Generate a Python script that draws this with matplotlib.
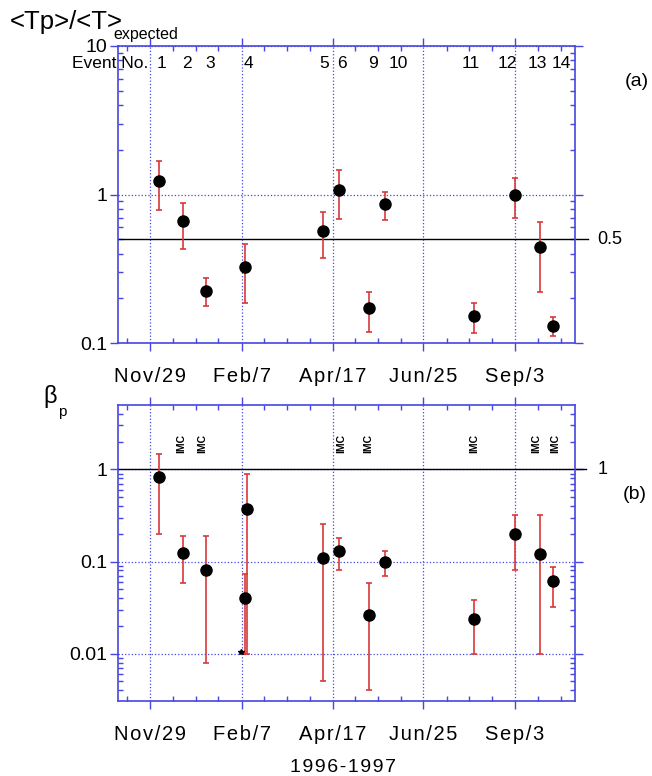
import matplotlib
matplotlib.use("Agg")
import matplotlib.pyplot as plt
from matplotlib.ticker import FixedLocator, FixedFormatter, NullFormatter, LogLocator

W, H = 652, 776
plt.rcParams['font.family'] = ['Liberation Sans', 'DejaVu Sans']

BLUE = '#4646e0'
RED = '#d83a3a'

# x axis: days after 1996 Nov 29
date_labels = ["Nov/29", "Feb/7", "Apr/17", "Jun/25", "Sep/3"]
date_days = [0, 70, 139, 208, 278]

event_no = ["1", "2", "3", "4", "5", "6", "9", "10", "11", "12", "13", "14"]
event_label_day = [9, 28, 46, 75, 133, 146, 170, 189, 244, 272, 295, 313]

# panel (a): <Tp>/<T>expected
tp_day = [7, 25, 43, 72, 132, 144, 167, 179, 247, 278, 297, 307]
tp_val = [1.24, 0.66, 0.224, 0.325, 0.57, 1.08, 0.171, 0.86, 0.151, 0.99, 0.44, 0.131]
tp_hi = [1.67, 0.88, 0.272, 0.467, 0.766, 1.47, 0.221, 1.04, 0.185, 1.29, 0.656, 0.150]
tp_lo = [0.79, 0.43, 0.178, 0.185, 0.376, 0.687, 0.119, 0.676, 0.117, 0.70, 0.222, 0.111]

# panel (b): beta_p
bp_day = [7, 25, 43, 72, 74, 132, 144, 167, 179, 247, 278, 297, 307]
bp_val = [0.83, 0.125, 0.080, 0.040, 0.37, 0.11, 0.13, 0.026, 0.10, 0.024, 0.20, 0.12, 0.061]
bp_hi = [1.46, 0.19, 0.19, 0.073, 0.90, 0.254, 0.18, 0.059, 0.129, 0.038, 0.32, 0.32, 0.087]
bp_lo = [0.2, 0.058, 0.008, 0.01, 0.01, 0.005, 0.08, 0.004, 0.07, 0.01, 0.08, 0.01, 0.032]
star_day, star_val = 69, 0.0105

imc_day = [24, 40, 146, 166, 247, 294, 309]


def spaced(s):
    return '\u200a'.join(s)


def px(x, y):
    return x / W, 1 - y / H


def style(ax, ylim, yticks, ylabels):
    ax.set_yscale('log')
    ax.set_xlim(-24.4, 323.7)
    ax.set_ylim(*ylim)
    step = (date_days[-1] - date_days[0]) / 16
    minors = [date_days[0] - step] + [date_days[0] + step * k for k in range(1, 19) if k % 4]
    ax.xaxis.set_major_locator(FixedLocator(date_days))
    ax.xaxis.set_major_formatter(FixedFormatter([spaced(s) for s in date_labels]))
    ax.xaxis.set_minor_locator(FixedLocator(minors))
    ax.yaxis.set_major_locator(FixedLocator(yticks))
    ax.yaxis.set_major_formatter(FixedFormatter(ylabels))
    ax.yaxis.set_minor_locator(LogLocator(base=10, subs=range(2, 10)))
    ax.yaxis.set_minor_formatter(NullFormatter())
    for s in ax.spines.values():
        s.set_color(BLUE)
        s.set_linewidth(1.2)
    ax.tick_params(which='both', top=True, right=True, color=BLUE, width=1.0)
    ax.tick_params(which='major', direction='out', length=6)
    ax.tick_params(which='minor', direction='in', length=3.5)
    ax.tick_params(axis='x', which='major', labelsize=14.5, pad=11)
    ax.tick_params(axis='y', which='major', labelsize=14, pad=1.5)
    ax.grid(which='major', color=BLUE, ls=':', lw=0.9)


fig = plt.figure(figsize=(W / 100, H / 100), dpi=100)
ax1 = fig.add_axes([118 / W, 1 - 343 / H, 457 / W, 297 / H])
ax2 = fig.add_axes([118 / W, 1 - 701 / H, 457 / W, 296 / H])

style(ax1, (0.1, 10), [0.1, 1, 10], ["0.1", "1", "10"])
style(ax2, (0.00307, 4.98), [0.01, 0.1, 1], ["0.01", "0.1", "1"])

ax1.axhline(0.5, xmin=0, xmax=1.028, color='black', lw=1, clip_on=False, zorder=2)
ax1.errorbar(tp_day, tp_val,
             yerr=[[v - l for v, l in zip(tp_val, tp_lo)], [h - v for v, h in zip(tp_val, tp_hi)]],
             fmt='o', color='black', ms=8, ecolor=RED, elinewidth=1.2, capsize=2.2, capthick=1.2, zorder=3)

ax2.axhline(1, xmin=0, xmax=1.024, color='black', lw=1, clip_on=False, zorder=2)
ax2.errorbar(bp_day, bp_val,
             yerr=[[v - l for v, l in zip(bp_val, bp_lo)], [h - v for v, h in zip(bp_val, bp_hi)]],
             fmt='o', color='black', ms=8, ecolor=RED, elinewidth=1.2, capsize=2.2, capthick=1.2, zorder=3)
ax2.plot([star_day], [star_val], marker='*', color='black', ms=4, ls='none', zorder=4)

for d in imc_day:
    ax2.text(d, 1.9, "IMC", rotation=90, fontsize=7.5, fontweight='bold',
             ha='center', va='center')

# panel annotations
ax1.text(1.048, 0.5, "0.5", transform=ax1.get_yaxis_transform(), fontsize=13, va='center', ha='left')
ax2.text(1.05, 1, "1", transform=ax2.get_yaxis_transform(), fontsize=13, va='center', ha='left')

fig.text(*px(10, 22), "<Tp>/<T>", fontsize=18.5, ha='left', va='center')
fig.text(*px(113, 35), "expected", fontsize=11.5, ha='left', va='center')
fig.text(*px(72, 63), "Event No.", fontsize=12.5, ha='left', va='center')
for lab, d in zip(event_no, event_label_day):
    x = 150 + d * 1.313
    fig.text(*px(x, 63), lab, fontsize=12.5, ha='center', va='center')
fig.text(*px(637, 82), "(a)", fontsize=14, ha='center', va='center')
fig.text(*px(635, 495), "(b)", fontsize=14, ha='center', va='center')
fig.text(*px(50, 397), "\u03b2", fontsize=17, ha='center', va='center')
fig.text(*px(62, 412), "p", fontsize=11, ha='center', va='center')
fig.text(*px(343, 767), spaced("1996-1997"), fontsize=14, ha='center', va='center')

fig.savefig("out.png", dpi=100)
